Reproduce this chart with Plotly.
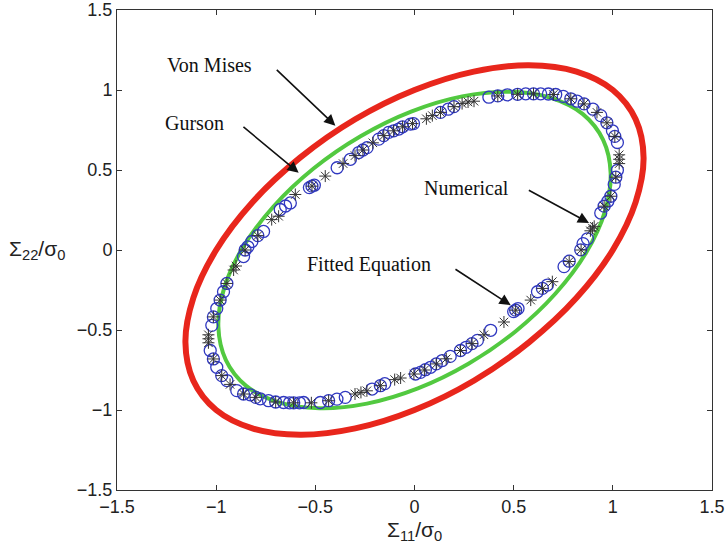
import plotly.graph_objects as go

# Von Mises yield surface
vm_x = [1.0, 1.115, 1.155, 1.115, 1.0, 0.817, 0.577, 0.299, 0.0, -0.299, -0.577, -0.817,
        -1.0, -1.115, -1.155, -1.115, -1.0, -0.817, -0.577, -0.299, 0.0, 0.299, 0.577, 0.817, 1.0]
vm_y = [1.0, 0.817, 0.577, 0.299, 0.0, -0.299, -0.577, -0.817, -1.0, -1.115, -1.155, -1.115,
        -1.0, -0.817, -0.577, -0.299, 0.0, 0.299, 0.577, 0.817, 1.0, 1.115, 1.155, 1.115, 1.0]

# Gurson yield surface
gu_x = [0.849, 0.951, 0.989, 0.960, 0.865, 0.711, 0.509, 0.272, 0.017, -0.240, -0.480, -0.688,
        -0.849, -0.951, -0.989, -0.960, -0.865, -0.711, -0.509, -0.272, -0.017, 0.240, 0.480, 0.688, 0.849]
gu_y = [0.849, 0.688, 0.480, 0.240, -0.017, -0.272, -0.509, -0.711, -0.865, -0.960, -0.989, -0.951,
        -0.849, -0.688, -0.480, -0.240, 0.017, 0.272, 0.509, 0.711, 0.865, 0.960, 0.989, 0.951, 0.849]

# Fitted equation (open circles)
fit_x = [-0.005, -0.02, -0.06, -0.079, -0.105, -0.130, -0.155, -0.180, -0.239, -0.260, -0.281, -0.323,
         -0.390, -0.505, -0.517, -0.530, -0.626, -0.650, -0.677, -0.761, -0.790, -0.820, -0.840, -0.854, -0.862,
         -0.946, -0.963, -0.980, -0.997, -1.014, -1.022, -1.030, -1.014, -0.997, -0.972, -0.946, -0.896,
         -0.862, -0.828, -0.800, -0.778, -0.736, -0.700, -0.660, -0.630, -0.609, -0.580, -0.559, -0.475,
         -0.433, -0.391, -0.349, -0.214, -0.172, -0.150,
         0.005, 0.030, 0.055, 0.081, 0.110, 0.140, 0.180, 0.232, 0.260, 0.290, 0.317, 0.384, 0.500, 0.510,
         0.522, 0.620, 0.645, 0.670, 0.754, 0.780, 0.838, 0.850, 0.872,
         0.939, 0.956, 0.975, 0.990, 1.007, 1.015, 1.023, 1.023, 1.010, 0.998, 0.970, 0.939, 0.900, 0.855,
         0.820, 0.788, 0.750, 0.712, 0.675, 0.636, 0.600, 0.561, 0.520, 0.468, 0.420, 0.375, 0.199, 0.170, 0.131]
fit_y = [0.790, 0.787, 0.770, 0.756, 0.745, 0.735, 0.715, 0.693, 0.640, 0.625, 0.609, 0.567,
         0.514, 0.405, 0.399, 0.390, 0.294, 0.275, 0.253, 0.116, 0.090, 0.053, 0.020, 0.000, -0.041,
         -0.209, -0.261, -0.313, -0.366, -0.418, -0.471, -0.628, -0.681, -0.733, -0.785, -0.816, -0.879,
         -0.900, -0.905, -0.921, -0.930, -0.942, -0.950, -0.953, -0.955, -0.955, -0.955, -0.953, -0.953,
         -0.942, -0.932, -0.921, -0.869, -0.848, -0.835,
         -0.775, -0.765, -0.748, -0.733, -0.712, -0.691, -0.665, -0.628, -0.608, -0.585, -0.565, -0.502,
         -0.385, -0.376, -0.366, -0.261, -0.240, -0.219, -0.104, -0.070, 0.001, 0.040, 0.070,
         0.231, 0.274, 0.305, 0.336, 0.410, 0.455, 0.498, 0.672, 0.710, 0.745, 0.795, 0.840, 0.880, 0.913,
         0.930, 0.945, 0.960, 0.972, 0.975, 0.976, 0.976, 0.976, 0.973, 0.970, 0.963, 0.955, 0.896, 0.880, 0.860]

# Numerical results (asterisks)
num_x = [-0.010, -0.060, -0.105, -0.155, -0.210, -0.260, -0.300, -0.360, -0.450, -0.517, -0.601, -0.685,
         -0.720, -0.790, -0.854,
         -0.912, -0.900, -0.946, -0.980, -1.014, -1.039, -1.039, -1.039, -1.014, -0.972, -0.930, -0.862,
         -0.800, -0.700, -0.610, -0.520, -0.433, -0.300, -0.270, -0.240, -0.172, -0.100, -0.070, -0.003,
         0.050, 0.110, 0.160, 0.232, 0.290, 0.350, 0.451, 0.510, 0.586, 0.645, 0.695, 0.780, 0.840, 0.897,
         0.906, 0.887,
         0.956, 0.990, 1.015, 1.032, 1.032, 1.032, 1.010, 0.970, 0.920, 0.855, 0.788, 0.700, 0.600, 0.520,
         0.420, 0.300, 0.270, 0.240, 0.199, 0.131, 0.090, 0.060]
num_y = [0.790, 0.770, 0.745, 0.715, 0.670, 0.625, 0.590, 0.540, 0.462, 0.399, 0.347, 0.211,
         0.190, 0.090, 0.000,
         -0.125, -0.100, -0.209, -0.313, -0.418, -0.530, -0.555, -0.580, -0.681, -0.785, -0.840, -0.900,
         -0.921, -0.950, -0.955, -0.955, -0.942, -0.900, -0.890, -0.880, -0.848, -0.810, -0.800, -0.775,
         -0.750, -0.712, -0.680, -0.628, -0.585, -0.530, -0.450, -0.376, -0.313, -0.240, -0.198, -0.072,
         0.000, 0.137, 0.148, 0.120,
         0.274, 0.336, 0.455, 0.540, 0.567, 0.595, 0.710, 0.795, 0.860, 0.913, 0.945, 0.972, 0.976, 0.973,
         0.963, 0.930, 0.925, 0.915, 0.896, 0.860, 0.840, 0.820]

ticks = [-1.5, -1, -0.5, 0, 0.5, 1, 1.5]
tick_text = ["\u22121.5", "\u22121", "\u22120.5", "0", "0.5", "1", "1.5"]

labels = ["Von Mises", "Gurson", "Numerical", "Fitted Equation"]
label_x = [-1.035, -1.111, 0.263, -0.227]
label_y = [1.154, 0.796, 0.387, -0.091]
tail_x = [-0.702, -0.870, 0.569, 0.199]
tail_y = [1.135, 0.777, 0.379, -0.114]
tip_x = [-0.399, -0.584, 0.880, 0.485]
tip_y = [0.777, 0.483, 0.169, -0.345]

fig = go.Figure()
fig.add_trace(go.Scatter(x=vm_x, y=vm_y, mode="lines", line=dict(color="#e8261c", width=6, shape="spline"),
                         showlegend=False, hoverinfo="skip"))
fig.add_trace(go.Scatter(x=gu_x, y=gu_y, mode="lines", line=dict(color="#52c940", width=4, shape="spline"),
                         showlegend=False, hoverinfo="skip"))
fig.add_trace(go.Scatter(x=fit_x, y=fit_y, mode="markers",
                         marker=dict(symbol="circle-open", size=12, color="#3038c0", line=dict(width=1.3)),
                         showlegend=False))
fig.add_trace(go.Scatter(x=num_x, y=num_y, mode="markers",
                         marker=dict(symbol="asterisk-open", size=10, color="#333333", line=dict(width=1, color="#333333")),
                         showlegend=False))

for t, lx, ly in zip(labels, label_x, label_y):
    fig.add_annotation(x=lx, y=ly, xref="x", yref="y", text=t, showarrow=False,
                       font=dict(family="Liberation Serif", size=20, color="#111111"))
for axx, ayy, tx, ty in zip(tail_x, tail_y, tip_x, tip_y):
    fig.add_annotation(x=tx, y=ty, ax=axx, ay=ayy, xref="x", yref="y", axref="x", ayref="y",
                       text="", showarrow=True, arrowhead=2, arrowsize=1.4, arrowwidth=1.6,
                       arrowcolor="#111111", standoff=0, startstandoff=0)

fig.add_annotation(x=-0.134, y=0.5, xref="paper", yref="paper", xanchor="center", yanchor="middle",
                   text="\u03a3<sub>22</sub>/\u03c3<sub>0</sub>", showarrow=False,
                   font=dict(family="Liberation Sans", size=21, color="#222222"))
fig.add_annotation(x=0.5, y=-0.085, xref="paper", yref="paper", xanchor="center", yanchor="middle",
                   text="\u03a3<sub>11</sub>/\u03c3<sub>0</sub>", showarrow=False,
                   font=dict(family="Liberation Sans", size=21, color="#222222"))

axis_common = dict(range=[-1.5, 1.5], tickmode="array", tickvals=ticks, ticktext=tick_text,
                   ticks="inside", ticklen=5, tickcolor="#333333", showline=True, linecolor="#333333",
                   linewidth=1, mirror="ticks", showgrid=False, zeroline=False, automargin=False,
                   tickfont=dict(family="Liberation Sans", size=18, color="#222222"))
fig.update_xaxes(**axis_common)
fig.update_yaxes(**axis_common)
fig.update_layout(width=726, height=548, margin=dict(l=117, r=14, t=10, b=58),
                  plot_bgcolor="white", paper_bgcolor="white")
fig.write_html("out.html")
